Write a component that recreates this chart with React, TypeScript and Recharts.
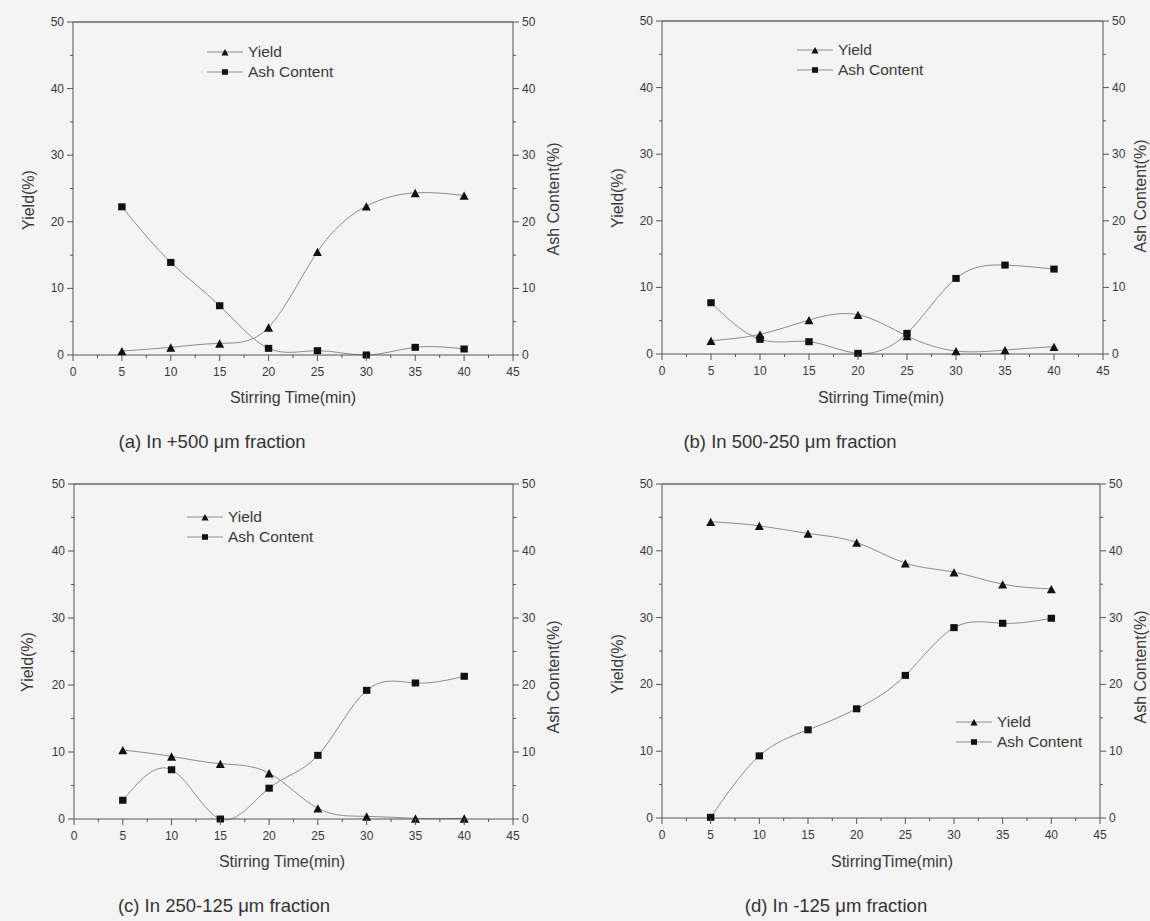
import React from 'react';
import { LineChart, Line, XAxis, YAxis, ReferenceLine, Legend } from 'recharts';

// Stirring time (min), shared by all four panels
const stirringTime = [5, 10, 15, 20, 25, 30, 35, 40];

// (a) +500 um
const yieldA = [0.6, 1.15, 1.75, 4.15, 15.5, 22.35, 24.35, 23.95];
const ashA = [22.25, 13.9, 7.4, 1.0, 0.65, 0.0, 1.15, 0.9];
// (b) 500-250 um
const yieldB = [2.0, 2.95, 5.1, 5.9, 2.7, 0.45, 0.6, 1.1];
const ashB = [7.7, 2.2, 1.85, 0.1, 3.1, 11.35, 13.35, 12.75];
// (c) 250-125 um
const yieldC = [10.3, 9.35, 8.25, 6.85, 1.6, 0.4, 0.1, 0.1];
const ashC = [2.8, 7.35, 0.0, 4.6, 9.5, 19.2, 20.3, 21.3];
// (d) -125 um
const yieldD = [44.35, 43.75, 42.6, 41.25, 38.15, 36.8, 35.0, 34.3];
const ashD = [0.1, 9.3, 13.2, 16.35, 21.35, 28.5, 29.15, 29.9];

// ticks (major every 5 / 10, minor half way)
const xTicks = [0, 2.5, 5, 7.5, 10, 12.5, 15, 17.5, 20, 22.5, 25, 27.5, 30, 32.5, 35, 37.5, 40, 42.5, 45];
const yTicks = [0, 5, 10, 15, 20, 25, 30, 35, 40, 45, 50];
const legendOrder = ['Yield', 'Ash Content'];

const FONT = '"Liberation Sans", Arial, Helvetica, sans-serif';
const AXIS = '#555555';
const TEXT = '#3a3a3a';
const LINE = '#8c8c8c';
const BG = '#f4f4f4';
const PANEL_W = 575;
const PANEL_H = 460;

const panels = [
    {
        key: 'a', yieldData: yieldA, ashData: ashA,
        caption: '(a) In +500 \u03bcm fraction', xTitle: 'Stirring Time(min)',
        left: 0, top: 0, plotL: 73, plotR: 513, plotT: 22, plotB: 355,
        yTitle: [29, 200], ashTitle: [554, 199], xTitlePos: [293, 398], captionPos: [212, 442], legendPos: [207, 52]
    },
    {
        key: 'b', yieldData: yieldB, ashData: ashB,
        caption: '(b) In 500-250 \u03bcm fraction', xTitle: 'Stirring Time(min)',
        left: 575, top: 0, plotL: 87, plotR: 528, plotT: 21, plotB: 354,
        yTitle: [43, 198], ashTitle: [566, 196], xTitlePos: [306, 398], captionPos: [215, 442], legendPos: [222, 50]
    },
    {
        key: 'c', yieldData: yieldC, ashData: ashC,
        caption: '(c) In 250-125 \u03bcm fraction', xTitle: 'Stirring Time(min)',
        left: 0, top: 460, plotL: 74, plotR: 513, plotT: 24, plotB: 359,
        yTitle: [28, 202], ashTitle: [554, 217], xTitlePos: [282, 402], captionPos: [224, 446], legendPos: [187, 57]
    },
    {
        key: 'd', yieldData: yieldD, ashData: ashD,
        caption: '(d) In -125 \u03bcm fraction', xTitle: 'StirringTime(min)',
        left: 575, top: 460, plotL: 87, plotR: 525, plotT: 24, plotB: 358,
        yTitle: [43, 204], ashTitle: [566, 207], xTitlePos: [317, 402], captionPos: [261, 446], legendPos: [381, 262]
    }
];

const XTick = (props: any) => {
    const { x, y, payload } = props;
    const v = payload.value;
    const major = v % 5 === 0;
    return (
        <g>
            <line x1={x} x2={x} y1={y} y2={y + (major ? 6 : 3)} stroke={AXIS} />
            {major && (
                <text x={x} y={y + 17} textAnchor="middle" dominantBaseline="central" fontSize={12} fill={TEXT} fontFamily={FONT}>
                    {v}
                </text>
            )}
        </g>
    );
};

const makeYTick = (side: 'left' | 'right') => (props: any) => {
    const { x, y, payload } = props;
    const v = payload.value;
    const major = v % 10 === 0;
    const dir = side === 'left' ? -1 : 1;
    return (
        <g>
            <line x1={x} x2={x + dir * (major ? 6 : 3)} y1={y} y2={y} stroke={AXIS} />
            {major && (
                <text x={x + dir * 9} y={y} textAnchor={side === 'left' ? 'end' : 'start'} dominantBaseline="central" fontSize={12} fill={TEXT} fontFamily={FONT}>
                    {v}
                </text>
            )}
        </g>
    );
};
const LeftTick = makeYTick('left');
const RightTick = makeYTick('right');

const triangle = (cx: number, cy: number, s: number) =>
    `M${cx},${cy - s}L${cx + s},${cy + s * 0.85}L${cx - s},${cy + s * 0.85}Z`;

const TriangleDot = (props: any) => {
    const { cx, cy, index } = props;
    if (cx == null || cy == null) return <g key={`t-${index}`} />;
    return <path key={`t-${index}`} d={triangle(cx, cy + 0.5, 4.5)} fill="#111" />;
};

const SquareDot = (props: any) => {
    const { cx, cy, index } = props;
    if (cx == null || cy == null) return <g key={`s-${index}`} />;
    return <rect key={`s-${index}`} x={cx - 3.7} y={cy - 3.5} width={7.4} height={7} fill="#111" />;
};

const LegendBox = ({ payload }: any) => {
    const items = [...(payload || [])].sort(
        (a: any, b: any) => legendOrder.indexOf(a.value) - legendOrder.indexOf(b.value)
    );
    return (
        <div style={{ fontFamily: FONT, fontSize: 15.5, color: TEXT, lineHeight: '19.5px' }}>
            {items.map((entry: any) => (
                <div key={entry.value} style={{ display: 'flex', alignItems: 'center', height: 19.5, whiteSpace: 'nowrap' }}>
                    <svg width={36} height={12} style={{ marginRight: 5 }}>
                        <line x1={0} x2={36} y1={6} y2={6} stroke={LINE} strokeWidth={1.2} />
                        {entry.value === 'Yield'
                            ? <path d={triangle(18, 6.5, 3.6)} fill="#111" />
                            : <rect x={15} y={3.2} width={6} height={5.6} fill="#111" />}
                    </svg>
                    <span>{entry.value}</span>
                </div>
            ))}
        </div>
    );
};

const titleStyle = (x: number, y: number, rotate: boolean): React.CSSProperties => ({
    position: 'absolute',
    left: x,
    top: y,
    transform: `translate(-50%, -50%)${rotate ? ' rotate(-90deg)' : ''}`,
    whiteSpace: 'nowrap',
    fontFamily: FONT,
    fontSize: 16,
    color: TEXT,
    lineHeight: 1
});

const Panel = ({ p }: { p: typeof panels[number] }) => {
    const data = stirringTime.map((t, i) => ({ t, yield: p.yieldData[i], ash: p.ashData[i] }));
    const xAxisH = 30;
    return (
        <div style={{ position: 'absolute', left: p.left, top: p.top, width: PANEL_W, height: PANEL_H }}>
            <LineChart
                width={PANEL_W}
                height={PANEL_H}
                data={data}
                margin={{ top: p.plotT, right: 0, left: 0, bottom: PANEL_H - p.plotB - xAxisH }}
            >
                <XAxis
                    dataKey="t"
                    type="number"
                    domain={[0, 45]}
                    ticks={xTicks}
                    interval={0}
                    height={xAxisH}
                    tickSize={0}
                    tickMargin={0}
                    tickLine={false}
                    tick={<XTick />}
                    axisLine={{ stroke: AXIS }}
                />
                <YAxis
                    yAxisId="left"
                    type="number"
                    domain={[0, 50]}
                    ticks={yTicks}
                    interval={0}
                    width={p.plotL}
                    tickSize={0}
                    tickMargin={0}
                    tickLine={false}
                    tick={<LeftTick />}
                    axisLine={{ stroke: AXIS }}
                />
                <YAxis
                    yAxisId="right"
                    orientation="right"
                    type="number"
                    domain={[0, 50]}
                    ticks={yTicks}
                    interval={0}
                    width={PANEL_W - p.plotR}
                    tickSize={0}
                    tickMargin={0}
                    tickLine={false}
                    tick={<RightTick />}
                    axisLine={{ stroke: AXIS }}
                />
                <ReferenceLine yAxisId="left" y={50} stroke="#666" strokeWidth={1.4} />
                <Legend
                    layout="vertical"
                    align="center"
                    verticalAlign="middle"
                    content={<LegendBox />}
                    wrapperStyle={{ left: p.legendPos[0], top: p.legendPos[1] - 9.75, width: 'auto', height: 'auto' }}
                />
                <Line
                    yAxisId="left"
                    type="natural"
                    dataKey="yield"
                    name="Yield"
                    stroke={LINE}
                    strokeWidth={1}
                    dot={TriangleDot}
                    activeDot={false}
                    isAnimationActive={false}
                />
                <Line
                    yAxisId="right"
                    type="natural"
                    dataKey="ash"
                    name="Ash Content"
                    stroke={LINE}
                    strokeWidth={1}
                    dot={SquareDot}
                    activeDot={false}
                    isAnimationActive={false}
                />
            </LineChart>
            <div style={titleStyle(p.yTitle[0], p.yTitle[1], true)}>Yield(%)</div>
            <div style={titleStyle(p.ashTitle[0], p.ashTitle[1], true)}>Ash Content(%)</div>
            <div style={titleStyle(p.xTitlePos[0], p.xTitlePos[1], false)}>{p.xTitle}</div>
            <div style={{ ...titleStyle(p.captionPos[0], p.captionPos[1], false), fontSize: 18.5, color: '#333' }}>
                {p.caption}
            </div>
        </div>
    );
};

export default function App() {
    return (
        <div style={{ position: 'absolute', left: 0, top: 0, width: 1150, height: 921, background: BG, overflow: 'hidden' }}>
            {panels.map(p => <Panel key={p.key} p={p} />)}
        </div>
    );
}
